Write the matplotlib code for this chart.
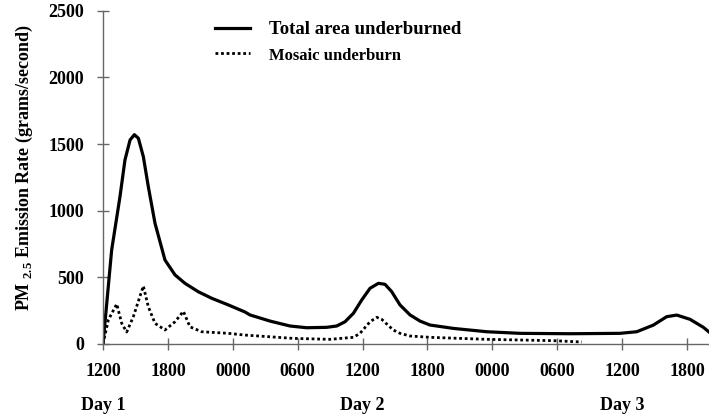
import matplotlib
matplotlib.use('Agg')
import matplotlib.pyplot as plt
import matplotlib.transforms as mtransforms

plt.rcParams['font.family'] = 'Liberation Serif'
plt.rcParams['font.weight'] = 'bold'
plt.rcParams['mathtext.fontset'] = 'custom'
plt.rcParams['mathtext.rm'] = 'Liberation Serif:bold'
plt.rcParams['mathtext.bf'] = 'Liberation Serif:bold'

# hours since 1200 on day 1, emission rate in g/s
total_hours = [0, 0.80, 1.57, 2.03, 2.50, 2.90, 3.27, 3.73, 4.19, 4.81, 5.73, 6.66,
               7.58, 8.81, 10.05, 11.59, 13.13, 13.59, 15.44, 17.29, 18.83, 20.68,
               21.61, 22.38, 23.15, 23.92, 24.69, 25.46, 26.07, 26.69, 27.46, 28.39,
               29.31, 30.24, 30.86, 32.39, 35.48, 38.56, 43.18, 47.80, 49.35, 50.89,
               52.12, 53.05, 54.28, 55.51, 56.0]
total_rate = [0, 705, 1105, 1380, 1530, 1570, 1543, 1405, 1180, 905, 630, 518,
              455, 392, 343, 293, 240, 218, 172, 135, 122, 125,
              135, 167, 230, 330, 418, 455, 448, 393, 293, 218,
              172, 142, 135, 117, 92, 80, 77, 80, 92, 142,
              205, 217, 185, 125, 92]

mosaic_hours = [0, 0.49, 1.27, 1.73, 2.19, 2.80, 3.73, 4.19, 4.81, 5.73, 6.66, 7.43,
                8.04, 9.12, 11.58, 13.13, 17.6, 20.99, 23.15, 23.76, 24.69, 25.31,
                25.77, 26.23, 26.84, 27.46, 28.39, 30.24, 35.48, 41.64, 44.27]
mosaic_rate = [0, 180, 300, 155, 90, 204, 435, 279, 155, 105, 167, 245,
               129, 92, 80, 67, 42, 35, 50, 80, 167, 200,
               185, 150, 105, 80, 60, 50, 35, 25, 15]

tick_hours = [0, 6, 12, 18, 24, 30, 36, 42, 48, 54]
tick_labels = ['1200', '1800', '0000', '0600', '1200', '1800', '0000', '0600', '1200', '1800']
day_hours = [0, 24, 48]
day_labels = ['Day 1', 'Day 2', 'Day 3']

fig = plt.figure(figsize=(7.09, 4.20), dpi=100)
ax = fig.add_axes([103 / 709, 1 - 344 / 420, 606 / 709, 333.3 / 420])

ax.plot(total_hours, total_rate, color='black', lw=2.3, label='Total area underburned',
        solid_joinstyle='round')
ax.plot(mosaic_hours, mosaic_rate, color='black', lw=2.0, linestyle=(0, (1, 1)),
        label='Mosaic underburn')

ax.set_xlim(0, 56.03)
ax.set_ylim(0, 2500)
ax.set_xticks(tick_hours)
ax.set_xticklabels(tick_labels)
ax.set_yticks([0, 500, 1000, 1500, 2000, 2500])

for side in ['top', 'right']:
    ax.spines[side].set_visible(False)
for side in ['left', 'bottom']:
    ax.spines[side].set_color('#666666')
    ax.spines[side].set_linewidth(1.0)
ax.tick_params(direction='inout', length=9, width=1.0, color='#666666',
               labelsize=13, pad=9)

trans = mtransforms.blended_transform_factory(ax.transData, ax.transAxes)
for h, lab in zip(day_hours, day_labels):
    ax.text(h, -0.185, lab, transform=trans, ha='center', va='center', fontsize=13)

fig.text(24 / 709, 1 - 168 / 420, r'PM $_{\mathbf{2.5}}$ Emission Rate (grams/second)',
         rotation=90, ha='center', va='center', fontsize=13)

leg = ax.legend(loc='upper left', bbox_to_anchor=(0.185, 0.968), frameon=False,
                fontsize=13.5, handlelength=1.85, handletextpad=1.0,
                labelspacing=0.45, borderpad=0, borderaxespad=0)
leg.get_texts()[1].set_fontsize(12)

fig.savefig('out.png', dpi=100)
plt.close()
